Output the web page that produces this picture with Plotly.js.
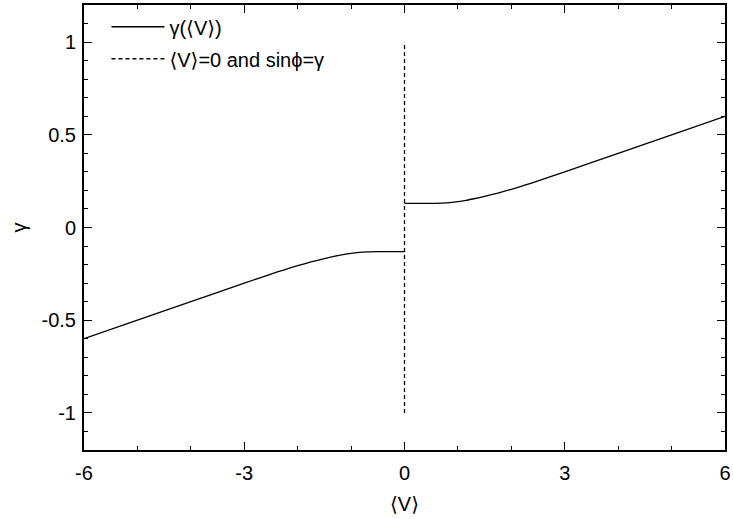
<!DOCTYPE html>
<html>
<head>
<meta charset="utf-8">
<script src="https://cdn.plot.ly/plotly-3.0.1.min.js"></script>
<style>html,body{margin:0;padding:0;background:#fff;}#chart{width:733px;height:519px;}</style>
</head>
<body>
<div id="chart"></div>
<script>
// right branch of gamma(<V>)
const vRight = [0, 0.25, 0.5, 0.7, 0.85, 1.0, 1.15, 1.3, 1.5, 1.75, 2.0, 2.25, 2.5, 3.0, 4.0, 5.0, 6.0];
const gRight = [0.13, 0.13, 0.13, 0.131, 0.134, 0.139, 0.146, 0.155, 0.168, 0.186, 0.206, 0.228, 0.251, 0.30, 0.40, 0.50, 0.60];
// left branch (mirror image)
const vLeft = [-6.0, -5.0, -4.0, -3.0, -2.5, -2.25, -2.0, -1.75, -1.5, -1.3, -1.15, -1.0, -0.85, -0.7, -0.5, -0.25, 0];
const gLeft = [-0.60, -0.50, -0.40, -0.30, -0.251, -0.228, -0.206, -0.186, -0.168, -0.155, -0.146, -0.139, -0.134, -0.131, -0.13, -0.13, -0.13];
// vertical line <V>=0, sin(phi)=gamma
const vZero = [0, 0];
const gZero = [-1, 1];

const xTickVals = [-6, -3, 0, 3, 6];
const xTickText = ["-6", "-3", "0", "3", "6"];
const yTickVals = [-1, -0.5, 0, 0.5, 1];
const yTickText = ["-1", "-0.5", "0", "0.5", "1"];

const FONT = "Liberation Sans, Arial, DejaVu Sans, sans-serif";
const FS = 20;

const traces = [
  {x: vLeft, y: gLeft, mode: "lines", line: {color: "#000", width: 1.3, shape: "spline", smoothing: 0.6},
   name: "γ(⟨V⟩)", legendgroup: "a", showlegend: true, hoverinfo: "skip"},
  {x: vRight, y: gRight, mode: "lines", line: {color: "#000", width: 1.3, shape: "spline", smoothing: 0.6},
   name: "γ(⟨V⟩)", legendgroup: "a", showlegend: false, hoverinfo: "skip"},
  {x: vZero, y: gZero, mode: "lines", line: {color: "#000", width: 1.3, dash: "4px,3px"},
   name: "⟨V⟩=0 and sinϕ=γ", legendgroup: "b", showlegend: true, hoverinfo: "skip"}
];

const axisCommon = {
  showgrid: false, zeroline: false, showline: true, linecolor: "#000", linewidth: 2,
  mirror: "allticks", ticks: "inside", ticklen: 8, tickwidth: 1, tickcolor: "#000",
  tickfont: {family: FONT, size: FS, color: "#000"}
};

const layout = {
  width: 733, height: 519,
  paper_bgcolor: "#fff", plot_bgcolor: "#fff",
  margin: {l: 84, r: 8, t: 5, b: 69},
  font: {family: FONT, size: FS, color: "#000"},
  xaxis: Object.assign({}, axisCommon, {
    range: [-6, 6], tickmode: "array", tickvals: xTickVals, ticktext: xTickText,
    ticklabelstandoff: 4,
    minor: {ticks: "inside", dtick: 1, ticklen: 4, tickcolor: "#000", tickwidth: 1},
    title: {text: "⟨V⟩", font: {family: FONT, size: FS, color: "#000"}, standoff: 14}
  }),
  yaxis: Object.assign({}, axisCommon, {
    range: [-1.2, 1.2], tickmode: "array", tickvals: yTickVals, ticktext: yTickText,
    ticklabelstandoff: 2,
    minor: {ticks: "inside", dtick: 0.1, ticklen: 4, tickcolor: "#000", tickwidth: 1},
    title: {text: "γ", font: {family: FONT, size: FS, color: "#000"}, standoff: 10}
  }),
  showlegend: true,
  legend: {
    x: 0.035, y: 0.995, xanchor: "left", yanchor: "top",
    bgcolor: "rgba(0,0,0,0)", borderwidth: 0,
    font: {family: FONT, size: FS, color: "#000"},
    itemwidth: 53, tracegroupgap: 3
  }
};

Plotly.newPlot("chart", traces, layout, {displayModeBar: false, staticPlot: true});
</script>
</body>
</html>
